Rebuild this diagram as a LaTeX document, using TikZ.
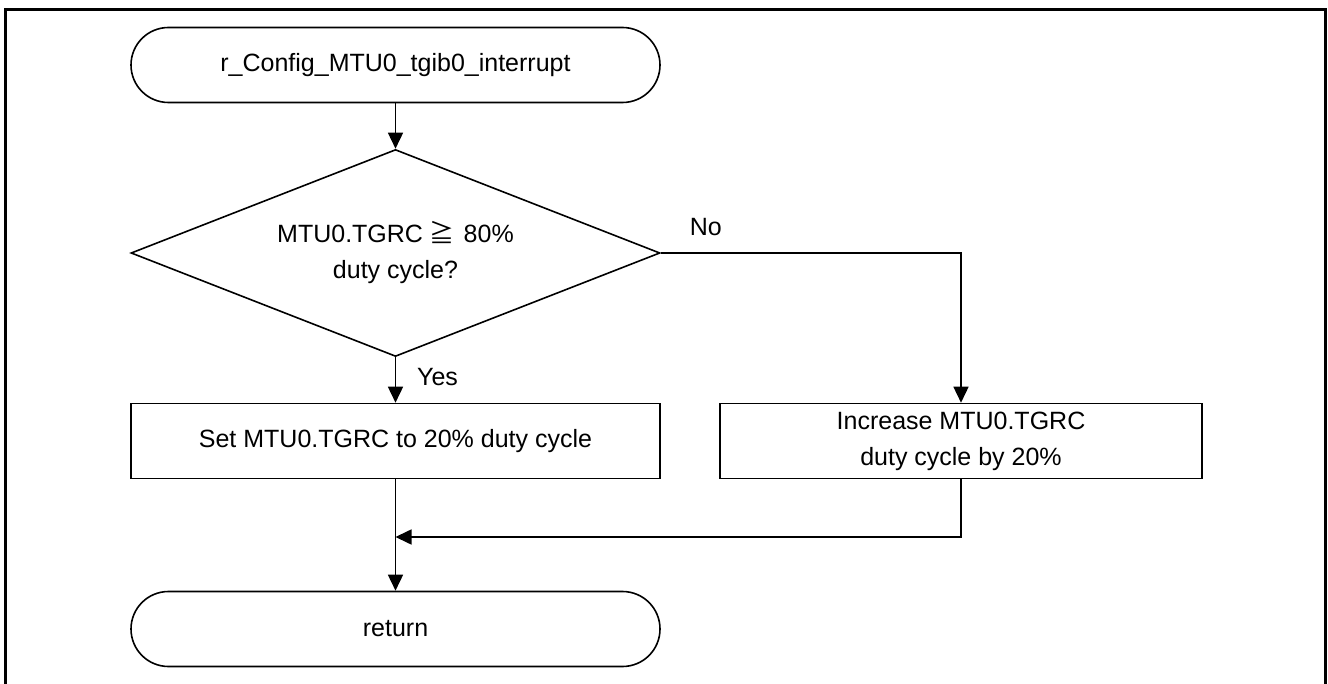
\documentclass[tikz,border=0pt]{standalone}
\usepackage{fontspec}
\setmainfont{Liberation Sans}
\newfontfamily\jpfont{Noto Sans CJK JP}
\usetikzlibrary{shapes.geometric, arrows.meta}

\begin{document}
\begin{tikzpicture}[x=1pt, y=-1pt, node distance=188pt,
  every node/.style={font=\fontsize{25}{36}\selectfont},
  terminal/.style={draw, line width=1.6pt, rounded corners=37.5pt, minimum width=529pt, minimum height=75pt, inner sep=0pt},
  process/.style={draw, line width=1.6pt, minimum height=75pt, inner sep=0pt, align=center},
  decision/.style={draw, line width=1.6pt, diamond, aspect=2.56, minimum width=529pt, minimum height=207pt, inner sep=0pt, align=center},
  arr/.style={line width=1.6pt, -{Triangle[length=16pt, width=15pt]}}]
\useasboundingbox (0,0) rectangle (1328,684);
\draw[line width=3pt] (5,684) -- (5,10) -- (1325,10) -- (1325,684);

\node (start) [terminal] at (395.5,65) {r\_Config\_MTU0\_tgib0\_interrupt};
\node (cond) [below of=start, decision] {MTU0.TGRC {\jpfont ≧}\hspace{0.35em}80\%\\duty cycle?};
\node (set) [below of=cond, process, minimum width=529pt] {Set MTU0.TGRC to 20\% duty cycle};
\node (inc) [below of=cond, xshift=565.5pt, process, minimum width=482pt] {Increase MTU0.TGRC\\duty cycle by 20\%};
\node (ret) [below of=set, terminal] {return};
\node (no) at ([xshift=45pt, yshift=26pt]cond.east) {No};
\node (yes) at ([xshift=42pt, yshift=-20pt]cond.south) {Yes};
\coordinate (join) at (set.south |- 0,537);

\draw[arr] (start) -- (cond);
\draw[arr] (cond) -- (set);
\draw[arr] (cond.east) -| (inc.north);
\draw[arr] (set) -- (ret);
\draw[arr] (inc.south) |- (join);
\end{tikzpicture}
\end{document}
